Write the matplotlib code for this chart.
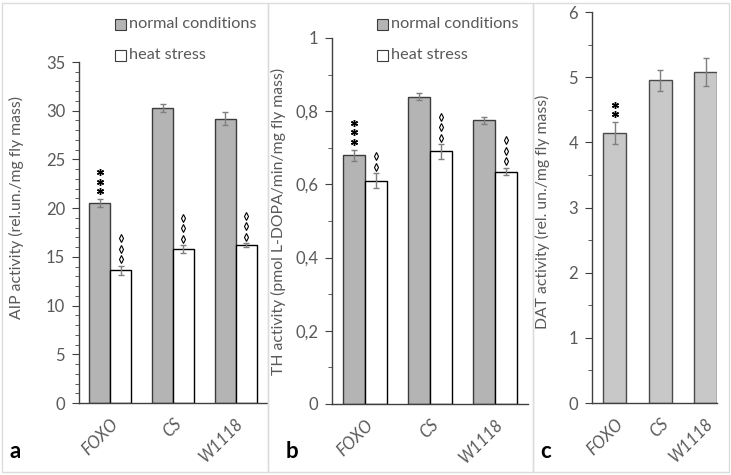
import matplotlib
matplotlib.use("Agg")
import matplotlib.pyplot as plt
import numpy as np
from matplotlib.patches import Rectangle
from matplotlib.ticker import MultipleLocator, FuncFormatter
from matplotlib.transforms import offset_copy

# --- data ---
strains = ["FOXO", "CS", "W1118"]

aip_normal = [20.5, 30.3, 29.2]
aip_normal_err = [0.4, 0.4, 0.7]
aip_heat = [13.6, 15.8, 16.2]
aip_heat_err = [0.5, 0.4, 0.2]

th_normal = [0.68, 0.84, 0.775]
th_normal_err = [0.015, 0.01, 0.01]
th_heat = [0.61, 0.69, 0.635]
th_heat_err = [0.02, 0.02, 0.01]

dat_vals = [4.14, 4.95, 5.08]
dat_err = [0.17, 0.16, 0.21]

aip_stars = [3, 0, 0]
aip_diamonds = [3, 3, 3]
th_stars = [3, 0, 0]
th_diamonds = [2, 3, 3]
dat_stars = [2, 0, 0]

plt.rcParams["font.family"] = ["Lato", "DejaVu Sans"]
GREY_TXT = "#595959"
AX_COL = "#404040"
PX = 72 / 100  # points per pixel

fig = plt.figure(figsize=(7.31, 4.75), dpi=100)

# panel frames
for x0, x1 in [(2, 268), (268, 533), (533, 729)]:
    fig.patches.append(Rectangle((x0 / 731, 3 / 475), (x1 - x0) / 731, 469 / 475,
                                 transform=fig.transFigure, fill=False,
                                 edgecolor="#dcdcdc", lw=1))


def style_axes(ax):
    for s in ["top", "right"]:
        ax.spines[s].set_visible(False)
    for s in ["left", "bottom"]:
        ax.spines[s].set_color(AX_COL)
        ax.spines[s].set_linewidth(1)
    ax.tick_params(axis="y", which="major", direction="out", length=5,
                   color=AX_COL, labelcolor=GREY_TXT, labelsize=12, pad=5)
    ax.tick_params(axis="y", which="minor", direction="out", length=3, color=AX_COL)
    ax.tick_params(axis="x", length=0, labelcolor=GREY_TXT, labelsize=12, pad=9)
    ax.set_xticks(range(3))
    ax.set_xticklabels(strains, rotation=45, ha="right", rotation_mode="anchor",
                       style="italic")


def stack(ax, x, y, n, kind):
    # significance marks piled above the error bar, offsets in pixels
    if kind == "star":
        offs = [8, 17.5, 27]
        mk = dict(marker=(6, 2, 0), markersize=5.0, mew=1.0, color="black")
    else:
        offs = [6.5, 17, 27.5]
        mk = dict(marker="d", markersize=4.2, mew=0.8, mfc="white", mec="black")
    for k in range(n):
        tr = offset_copy(ax.transData, fig=fig, x=0, y=offs[k] * PX, units="points")
        ax.plot([x], [y], transform=tr, linestyle="none", clip_on=False, **mk)


def pair_panel(ax, normal, nerr, heat, herr, stars, diamonds, ymax, major, minor, fmt):
    x = np.arange(3)
    w = 0.335
    ek = dict(ecolor="#7f7f7f", elinewidth=1, capsize=2.5, capthick=1)
    ax.bar(x - w / 2, normal, w, yerr=nerr, color="#b4b4b4", edgecolor="#3c3c3c",
           linewidth=1, error_kw=ek)
    ax.bar(x + w / 2, heat, w, yerr=herr, color="white", edgecolor="black",
           linewidth=1, error_kw=ek)
    ax.set_xlim(-0.5, 2.5)
    ax.set_ylim(0, ymax)
    ax.yaxis.set_major_locator(MultipleLocator(major))
    ax.yaxis.set_minor_locator(MultipleLocator(minor))
    ax.yaxis.set_major_formatter(FuncFormatter(fmt))
    style_axes(ax)
    for i in range(3):
        stack(ax, x[i] - w / 2, normal[i] + nerr[i], stars[i], "star")
        stack(ax, x[i] + w / 2, heat[i] + herr[i], diamonds[i], "diamond")


def fmt_comma(v, pos):
    s = f"{v:.1f}".rstrip("0").rstrip(".")
    return s.replace(".", ",")


def fmt_int(v, pos):
    return f"{v:.0f}"


# panel a
ax_a = fig.add_axes([79 / 731, 1 - 403 / 475, (267 - 79) / 731, (403 - 62) / 475])
pair_panel(ax_a, aip_normal, aip_normal_err, aip_heat, aip_heat_err,
           aip_stars, aip_diamonds, 35, 5, 1, fmt_int)
ax_a.set_ylabel("AIP activity (rel.un./mg fly mass)", color=GREY_TXT, fontsize=11.3)
ax_a.yaxis.set_label_coords(-0.29, 0.572)

# panel b
ax_b = fig.add_axes([332 / 731, 1 - 404 / 475, (528 - 332) / 731, (404 - 38) / 475])
pair_panel(ax_b, th_normal, th_normal_err, th_heat, th_heat_err,
           th_stars, th_diamonds, 1, 0.2, 0.1, fmt_comma)
ax_b.set_ylabel("TH activity (pmol L-DOPA/min/mg fly mass)", color=GREY_TXT, fontsize=11.3)
ax_b.yaxis.set_label_coords(-0.235, 0.5)

# panel c
ax_c = fig.add_axes([592 / 731, 1 - 403 / 475, (717 - 592) / 731, (403 - 12) / 475])
xc = np.arange(3)
ax_c.bar(xc, dat_vals, 0.5, yerr=dat_err, color="#c8c8c8", edgecolor="#4a4a4a",
         linewidth=1, error_kw=dict(ecolor="#7f7f7f", elinewidth=1, capsize=2.5, capthick=1))
ax_c.set_xlim(-0.5, 2.25)
ax_c.set_ylim(0, 6)
ax_c.yaxis.set_major_locator(MultipleLocator(1))
ax_c.yaxis.set_minor_locator(MultipleLocator(0.5))
ax_c.yaxis.set_major_formatter(FuncFormatter(fmt_int))
style_axes(ax_c)
for i in range(3):
    stack(ax_c, xc[i], dat_vals[i] + dat_err[i], dat_stars[i], "star")
ax_c.set_ylabel("DAT activity (rel. un./mg fly mass)", color=GREY_TXT, fontsize=11.3)
ax_c.yaxis.set_label_coords(-0.34, 0.488)

# legends
for lx in [115, 377]:
    fig.patches.append(Rectangle((lx / 731, 1 - 30 / 475), 11 / 731, 11 / 475,
                                 transform=fig.transFigure, facecolor="#b4b4b4",
                                 edgecolor="#3c3c3c", lw=0.8))
    fig.text((lx + 14) / 731, 1 - 24 / 475, "normal conditions", color=GREY_TXT,
             fontsize=11.7, va="center")
    fig.patches.append(Rectangle((lx / 731, 1 - 61 / 475), 11 / 731, 11 / 475,
                                 transform=fig.transFigure, facecolor="white",
                                 edgecolor="#3c3c3c", lw=0.8))
    fig.text((lx + 14) / 731, 1 - 55 / 475, "heat stress", color=GREY_TXT,
             fontsize=11.7, va="center")

# panel letters
for lx, lab in [(10, "a"), (286, "b"), (540, "c")]:
    fig.text(lx / 731, 1 - 452 / 475, lab, fontsize=16, fontweight="bold",
             va="center", color="black")

fig.savefig("out.png", dpi=100)
